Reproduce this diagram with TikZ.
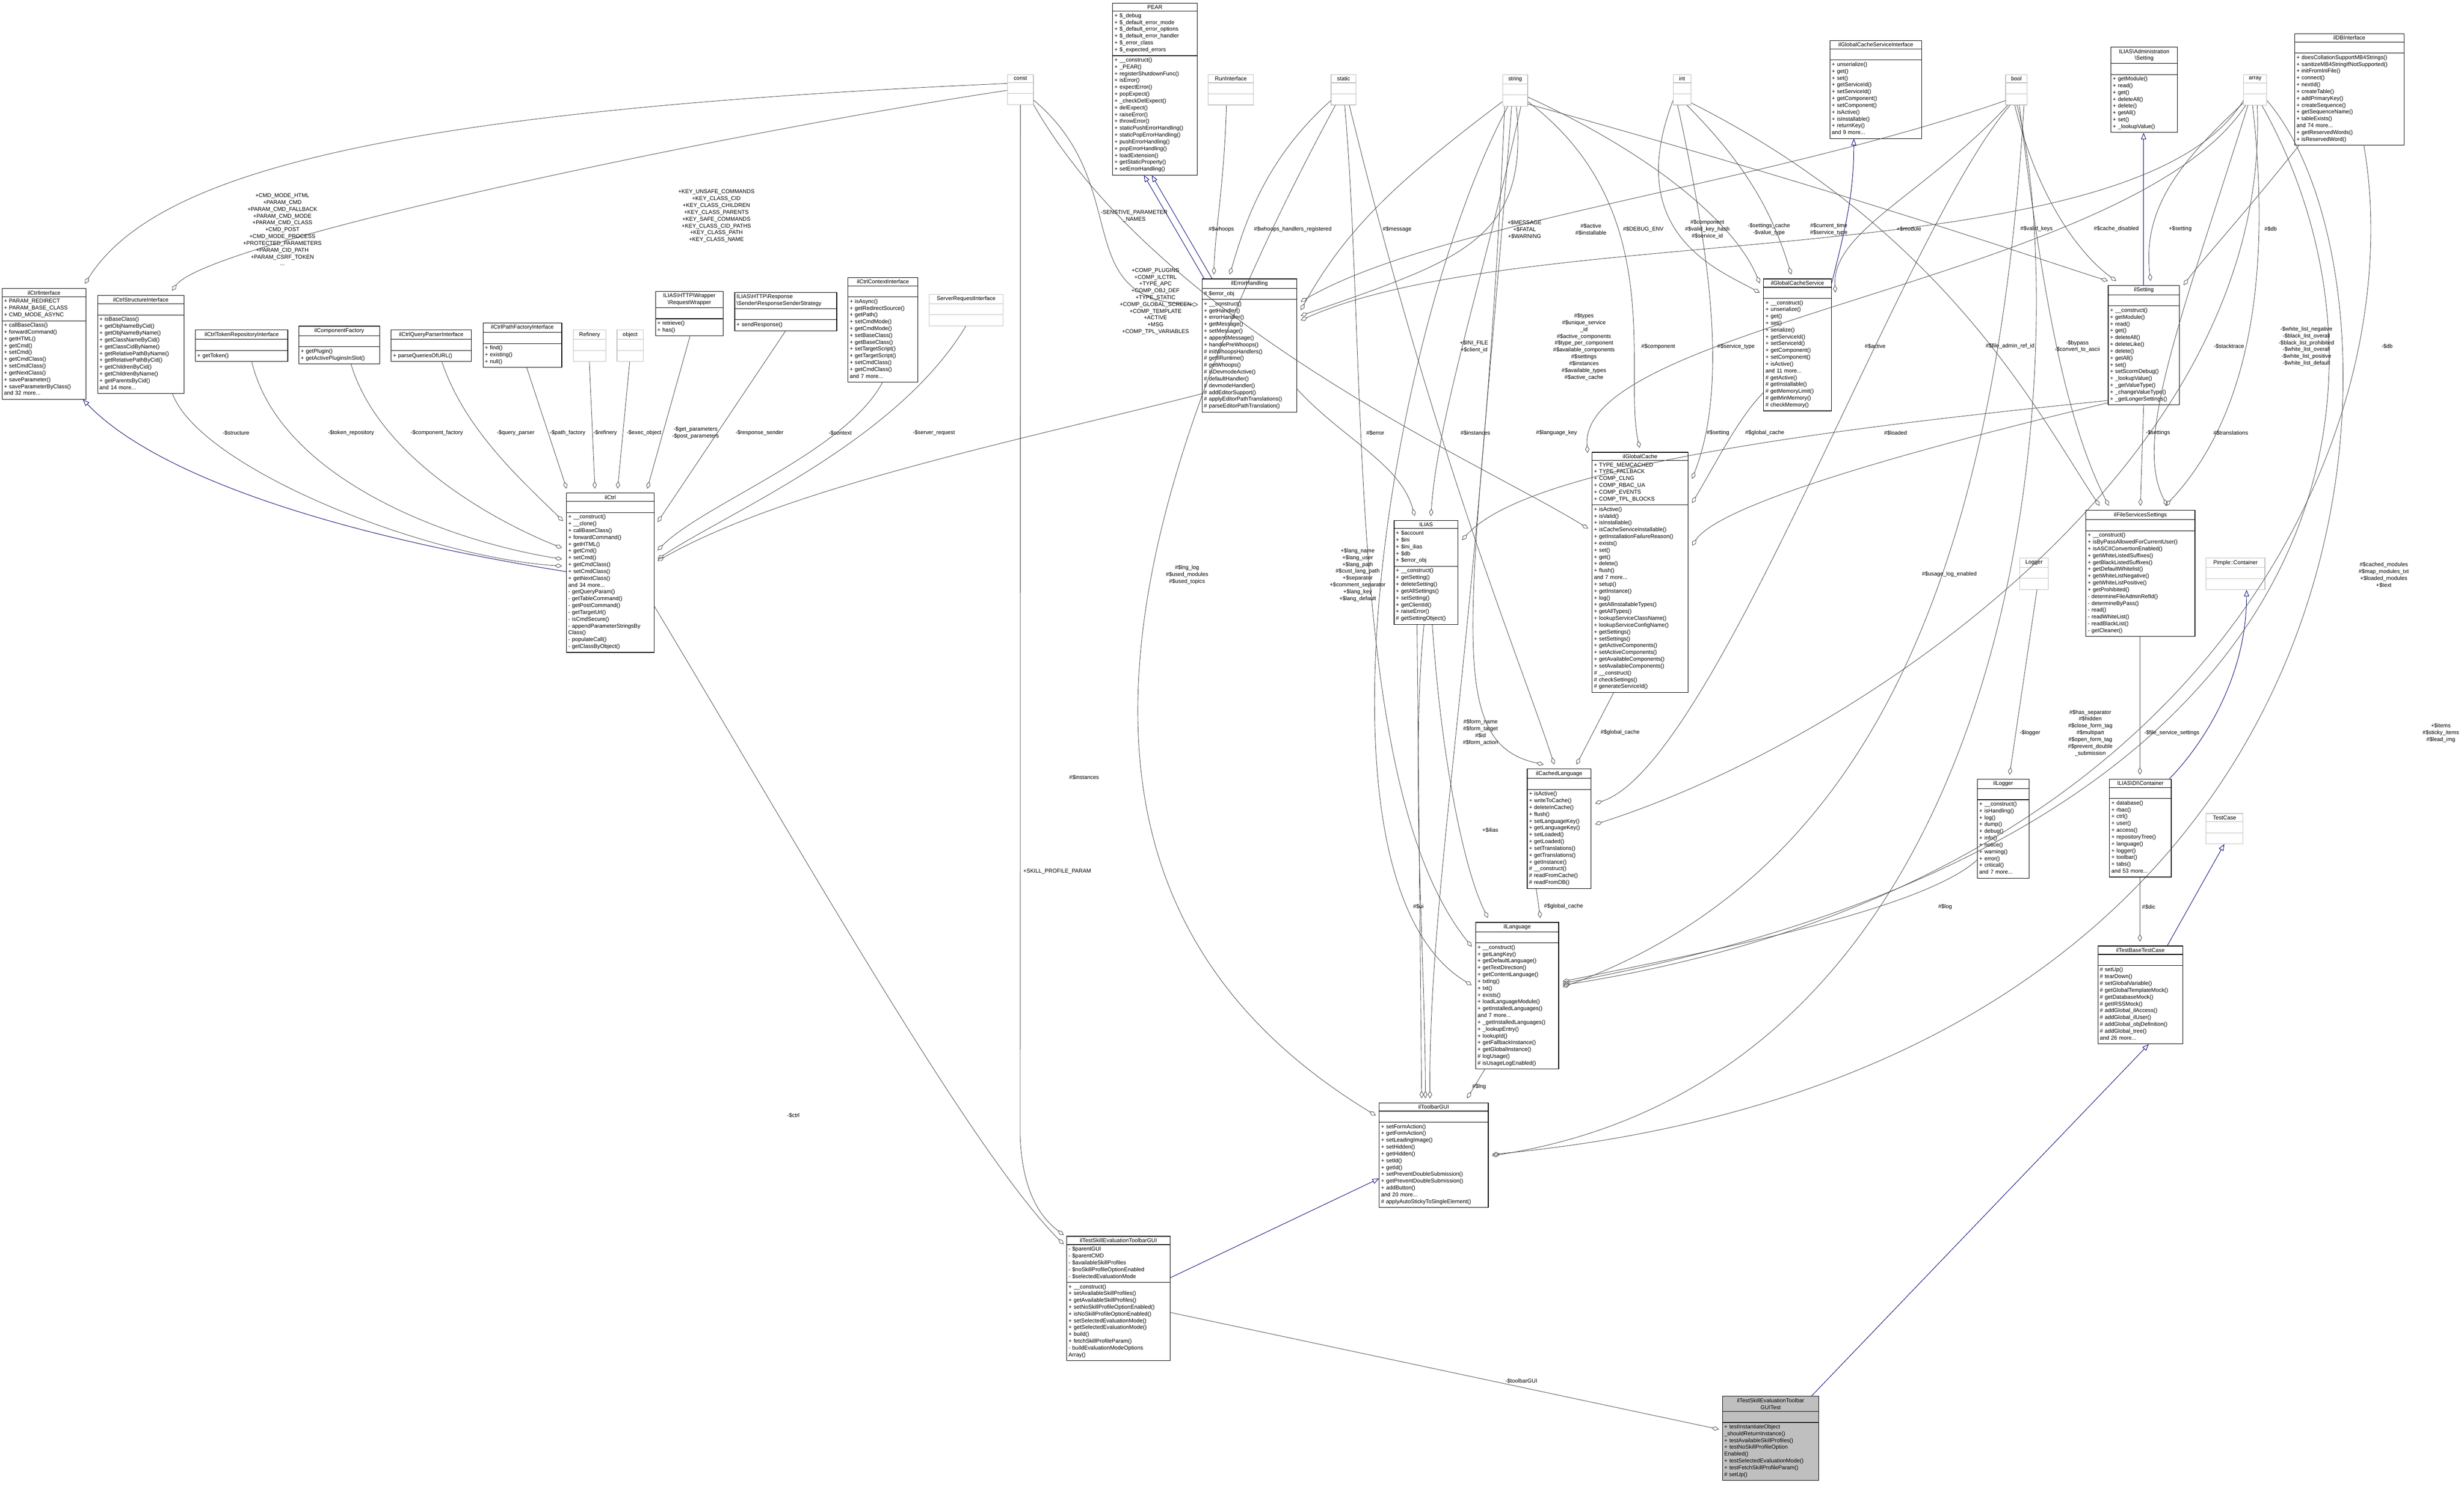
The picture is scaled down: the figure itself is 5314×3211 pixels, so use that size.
\documentclass[tikz,border=0pt]{standalone}
\usepackage{fontspec}
\setmainfont{Liberation Sans}
\usetikzlibrary{shapes.multipart,arrows.meta,calc}
\tikzset{
 cls/.style={draw=black,line width=1.2pt,fill=white,rectangle split,rectangle split parts=3,anchor=north west,
   align=left,inner sep=4pt,font=\fontsize{12}{14.7}\selectfont},
 gcls/.style={cls,draw=black!25},
 rel/.style={draw=black!75,line width=0.9pt,-{Diamond[open,length=16pt,width=9pt]}},
 inh/.style={draw=blue!45!black,line width=1pt,-{Triangle[open,length=14pt,width=11pt]}},
 lbl/.style={font=\fontsize{12}{14.7}\selectfont,align=center,inner sep=1pt}
}
\newcommand{\ucls}[8][cls]{\node[#1,text width=#5-8pt] (#2) at (#3,#4) {\centering #6\par\nodepart{second}#7\strut\nodepart{third}#8\strut};}
\newcommand{\lcls}[8][cls]{\node[#1,text width=#5-8pt] (#2) at (#3,#4) {#6\par\nodepart{second}#7\strut\nodepart{third}#8\strut};}
\begin{document}
\begin{tikzpicture}[x=1pt,y=-1pt]
\useasboundingbox (0,0) rectangle (5314,3211);
% ---------- classes ----------
\ucls{ctrlif}{4}{622}{181}{ilCtrlInterface}{+ PARAM\_REDIRECT\\+ PARAM\_BASE\_CLASS\\+ CMD\_MODE\_ASYNC}{+ callBaseClass()\\+ forwardCommand()\\+ getHTML()\\+ getCmd()\\+ setCmd()\\+ getCmdClass()\\+ setCmdClass()\\+ getNextClass()\\+ saveParameter()\\+ saveParameterByClass()\\and 32 more...}
\ucls{ctrlst}{210}{637}{186}{ilCtrlStructureInterface}{}{+ isBaseClass()\\+ getObjNameByCid()\\+ getObjNameByName()\\+ getClassNameByCid()\\+ getClassCidByName()\\+ getRelativePathByName()\\+ getRelativePathByCid()\\+ getChildrenByCid()\\+ getChildrenByName()\\+ getParentsByCid()\\and 14 more...}
\ucls{tokrep}{421}{711}{199}{ilCtrlTokenRepositoryInterface}{}{+ getToken()}
\ucls{compf}{644}{703}{174}{ilComponentFactory}{}{+ getPlugin()\\+ getActivePluginsInSlot()}
\ucls{qpar}{843}{711}{173}{ilCtrlQueryParserInterface}{}{+ parseQueriesOfURL()}
\ucls{pathf}{1041}{696}{170}{ilCtrlPathFactoryInterface}{}{+ find()\\+ existing()\\+ null()}
\ucls[gcls]{refin}{1236}{711}{70}{Refinery}{}{}
\ucls[gcls]{objct}{1330}{711}{57}{object}{}{}
\ucls{reqw}{1413}{628}{146}{ILIAS\textbackslash HTTP\textbackslash Wrapper\\\textbackslash RequestWrapper}{}{+ retrieve()\\+ has()}
\lcls{resps}{1584}{630}{220}{ILIAS\textbackslash HTTP\textbackslash Response\\\textbackslash Sender\textbackslash ResponseSenderStrategy}{}{+ sendResponse()}
\ucls{ctxif}{1828}{598}{151}{ilCtrlContextInterface}{}{+ isAsync()\\+ getRedirectSource()\\+ getPath()\\+ setCmdMode()\\+ getCmdMode()\\+ setBaseClass()\\+ getBaseClass()\\+ setTargetScript()\\+ getTargetScript()\\+ setCmdClass()\\+ getCmdClass()\\and 7 more...}
\ucls[gcls]{sreq}{2003}{634}{160}{ServerRequestInterface}{}{}
\ucls{ilctrl}{1221}{1063}{189}{ilCtrl}{}{+ \_\_construct()\\+ \_\_clone()\\+ callBaseClass()\\+ forwardCommand()\\+ getHTML()\\+ getCmd()\\+ setCmd()\\+ getCmdClass()\\+ setCmdClass()\\+ getNextClass()\\and 34 more...\\- getQueryParam()\\- getTableCommand()\\- getPostCommand()\\- getTargetUrl()\\- isCmdSecure()\\- appendParameterStringsBy\\Class()\\- populateCall()\\- getClassByObject()}
\ucls[gcls]{const}{2172}{160}{56}{const}{}{}
\ucls{pear}{2399}{6}{182}{PEAR}{+ \$\_debug\\+ \$\_default\_error\_mode\\+ \$\_default\_error\_options\\+ \$\_default\_error\_handler\\+ \$\_error\_class\\+ \$\_expected\_errors}{+ \_\_construct()\\+ \_PEAR()\\+ registerShutdownFunc()\\+ isError()\\+ expectError()\\+ popExpect()\\+ \_checkDelExpect()\\+ delExpect()\\+ raiseError()\\+ throwError()\\+ staticPushErrorHandling()\\+ staticPopErrorHandling()\\+ pushErrorHandling()\\+ popErrorHandling()\\+ loadExtension()\\+ getStaticProperty()\\+ setErrorHandling()}
\ucls[gcls]{runif}{2605}{160}{98}{RunInterface}{}{}
\ucls[gcls]{static}{2870}{160}{54}{static}{}{}
\ucls[gcls]{string}{3240}{160}{54}{string}{}{}
\ucls[gcls]{int}{3608}{160}{38}{int}{}{}
\ucls[gcls]{bool}{4325}{160}{46}{bool}{}{}
\ucls[gcls]{array}{4838}{160}{50}{array}{}{}
\ucls{gcsi}{3946}{87}{198}{ilGlobalCacheServiceInterface}{}{+ unserialize()\\+ get()\\+ set()\\+ getServiceId()\\+ setServiceId()\\+ getComponent()\\+ setComponent()\\+ isActive()\\+ isInstallable()\\+ returnKey()\\and 9 more...}
\ucls{admset}{4552}{101}{143}{ILIAS\textbackslash Administration\\\textbackslash Setting}{}{+ getModule()\\+ read()\\+ get()\\+ deleteAll()\\+ delete()\\+ getAll()\\+ set()\\+ \_lookupValue()}
\ucls{dbif}{4948}{72}{236}{ilDBInterface}{}{+ doesCollationSupportMB4Strings()\\+ sanitizeMB4StringIfNotSupported()\\+ initFromIniFile()\\+ connect()\\+ nextId()\\+ createTable()\\+ addPrimaryKey()\\+ createSequence()\\+ getSequenceName()\\+ tableExists()\\and 74 more...\\+ getReservedWords()\\+ isReservedWord()}
\ucls{errh}{2592}{601}{204}{ilErrorHandling}{\# \$error\_obj}{+ \_\_construct()\\+ getHandler()\\+ errorHandler()\\+ getMessage()\\+ setMessage()\\+ appendMessage()\\+ handlePreWhoops()\\\# initWhoopsHandlers()\\\# getIlRuntime()\\\# getWhoops()\\\# isDevmodeActive()\\\# defaultHandler()\\\# devmodeHandler()\\\# addEditorSupport()\\\# applyEditorPathTranslations()\\\# parseEditorPathTranslation()}
\ucls{gcs}{3803}{601}{146}{ilGlobalCacheService}{}{+ \_\_construct()\\+ unserialize()\\+ get()\\+ set()\\+ serialize()\\+ getServiceId()\\+ setServiceId()\\+ getComponent()\\+ setComponent()\\+ isActive()\\and 11 more...\\\# getActive()\\\# getInstallable()\\\# getMemoryLimit()\\\# getMinMemory()\\\# checkMemory()}
\ucls{gc}{3433}{975}{207}{ilGlobalCache}{+ TYPE\_MEMCACHED\\+ TYPE\_FALLBACK\\+ COMP\_CLNG\\+ COMP\_RBAC\_UA\\+ COMP\_EVENTS\\+ COMP\_TPL\_BLOCKS}{+ isActive()\\+ isValid()\\+ isInstallable()\\+ isCacheServiceInstallable()\\+ getInstallationFailureReason()\\+ exists()\\+ set()\\+ get()\\+ delete()\\+ flush()\\and 7 more...\\+ setup()\\+ getInstance()\\+ log()\\+ getAllInstallableTypes()\\+ getAllTypes()\\+ lookupServiceClassName()\\+ lookupServiceConfigName()\\+ getSettings()\\+ setSettings()\\+ getActiveComponents()\\+ setActiveComponents()\\+ getAvailableComponents()\\+ setAvailableComponents()\\\# \_\_construct()\\\# checkSettings()\\\# generateServiceId()}
\ucls{ilias}{3006}{1122}{138}{ILIAS}{+ \$account\\+ \$ini\\+ \$ini\_ilias\\+ \$db\\+ \$error\_obj}{+ \_\_construct()\\+ getSetting()\\+ deleteSetting()\\+ getAllSettings()\\+ setSetting()\\+ getClientId()\\+ raiseError()\\\# getSettingObject()}
\ucls{setting}{4546}{615}{154}{ilSetting}{}{+ \_\_construct()\\+ getModule()\\+ read()\\+ get()\\+ deleteAll()\\+ deleteLike()\\+ delete()\\+ getAll()\\+ set()\\+ setScormDebug()\\+ \_lookupValue()\\+ \_getValueType()\\+ \_changeValueType()\\+ \_getLongerSettings()}
\ucls{fss}{4498}{1100}{235}{ilFileServicesSettings}{}{+ \_\_construct()\\+ isByPassAllowedForCurrentUser()\\+ isASCIIConvertionEnabled()\\+ getWhiteListedSuffixes()\\+ getBlackListedSuffixes()\\+ getDefaultWhitelist()\\+ getWhiteListNegative()\\+ getWhiteListPositive()\\+ getProhibited()\\- determineFileAdminRefId()\\- determineByPass()\\- read()\\- readWhiteList()\\- readBlackList()\\- getCleaner()}
\ucls[gcls]{logger}{4355}{1203}{62}{Logger}{}{}
\ucls[gcls]{pimple}{4757}{1203}{127}{Pimple::Container}{}{}
\ucls[gcls]{testcase}{4757}{1754}{80}{TestCase}{}{}
\ucls{illog}{4264}{1680}{111}{ilLogger}{}{+ \_\_construct()\\+ isHandling()\\+ log()\\+ dump()\\+ debug()\\+ info()\\+ notice()\\+ warning()\\+ error()\\+ critical()\\and 7 more...}
\ucls{dic}{4549}{1680}{133}{ILIAS\textbackslash DI\textbackslash Container}{}{+ database()\\+ rbac()\\+ ctrl()\\+ user()\\+ access()\\+ repositoryTree()\\+ language()\\+ logger()\\+ toolbar()\\+ tabs()\\and 53 more...}
\ucls{tbtc}{4524}{2040}{183}{ilTestBaseTestCase}{}{\# setUp()\\\# tearDown()\\\# setGlobalVariable()\\\# getGlobalTemplateMock()\\\# getDatabaseMock()\\\# getIRSSMock()\\\# addGlobal\_ilAccess()\\\# addGlobal\_ilUser()\\\# addGlobal\_objDefinition()\\\# addGlobal\_tree()\\and 26 more...}
\ucls{clang}{3293}{1658}{138}{ilCachedLanguage}{}{+ isActive()\\+ writeToCache()\\+ deleteInCache()\\+ flush()\\+ setLanguageKey()\\+ getLanguageKey()\\+ setLoaded()\\+ getLoaded()\\+ setTranslations()\\+ getTranslations()\\+ getInstance()\\\# \_\_construct()\\\# readFromCache()\\\# readFromDB()}
\ucls{lang}{3182}{1989}{179}{ilLanguage}{}{+ \_\_construct()\\+ getLangKey()\\+ getDefaultLanguage()\\+ getTextDirection()\\+ getContentLanguage()\\+ txtlng()\\+ txt()\\+ exists()\\+ loadLanguageModule()\\+ getInstalledLanguages()\\and 7 more...\\+ \_getInstalledLanguages()\\+ \_lookupEntry()\\+ lookupId()\\+ getFallbackInstance()\\+ getGlobalInstance()\\\# logUsage()\\\# isUsageLogEnabled()}
\ucls{tbar}{2974}{2378}{235}{ilToolbarGUI}{}{+ setFormAction()\\+ getFormAction()\\+ setLeadingImage()\\+ setHidden()\\+ getHidden()\\+ setId()\\+ getId()\\+ setPreventDoubleSubmission()\\+ getPreventDoubleSubmission()\\+ addButton()\\and 20 more...\\\# applyAutoStickyToSingleElement()}
\ucls{tseg}{2300}{2666}{223}{ilTestSkillEvaluationToolbarGUI}{- \$parentGUI\\- \$parentCMD\\- \$availableSkillProfiles\\- \$noSkillProfileOptionEnabled\\- \$selectedEvaluationMode}{+ \_\_construct()\\+ setAvailableSkillProfiles()\\+ getAvailableSkillProfiles()\\+ setNoSkillProfileOptionEnabled()\\+ isNoSkillProfileOptionEnabled()\\+ setSelectedEvaluationMode()\\+ getSelectedEvaluationMode()\\+ build()\\+ fetchSkillProfileParam()\\- buildEvaluationModeOptions\\Array()}
\ucls[cls,fill=black!25]{test}{3714}{3011}{208}{ilTestSkillEvaluationToolbar\\GUITest}{}{+ testInstantiateObject\\\_shouldReturnInstance()\\+ testAvailableSkillProfiles()\\+ testNoSkillProfileOption\\Enabled()\\+ testSelectedEvaluationMode()\\+ testFetchSkillProfileParam()\\\# setUp()}
% ---------- inheritance ----------
\draw[inh] ($(ilctrl.north west)+(0,170)$) .. controls (700,1150) and (330,1020) .. ($(ctrlif.south west)+(175,0)$);
\draw[inh] ($(errh.north west)+(5,0)$) -- ($(pear.south west)+(68,0)$);
\draw[inh] ($(errh.north west)+(22,0)$) -- ($(pear.south west)+(85,0)$);
\draw[inh] ($(gcs.north east)+(0,10)$) .. controls +(30,-120) and +(0,120) .. ($(gcsi.south west)+(52,0)$);
\draw[inh] ($(setting.north west)+(77,0)$) -- ($(admset.south west)+(71,0)$);
\draw[inh] ($(dic.north east)+(-5,0)$) .. controls +(60,-60) and +(0,200) .. ($(pimple.south west)+(88,0)$);
\draw[inh] ($(tbtc.north west)+(150,0)$) -- ($(testcase.south west)+(40,0)$);
\draw[inh] ($(test.north west)+(193,0)$) -- ($(tbtc.south west)+(110,0)$);
\draw[inh] ($(tseg.north east)+(0,90)$) -- ($(tbar.south west)+(0,-63)$);
% ---------- ilCtrl associations ----------
\draw[rel] ($(const.north west)+(0,20)$) .. controls (800,240) and (330,380) .. ($(ctrlif.north west)+(179,-10)$);
\draw[rel] ($(const.north west)+(0,35)$) .. controls (1600,280) and (450,520) .. ($(ctrlst.north west)+(161,-10)$);
\draw[rel] ($(ctrlst.south west)+(162,0)$) .. controls +(60,160) and +(-300,-20) .. ($(ilctrl.north west)+(-9,158)$);
\draw[rel] ($(tokrep.south west)+(122,0)$) .. controls +(60,250) and +(-250,-40) .. ($(ilctrl.north west)+(-9,143)$);
\draw[rel] ($(compf.south west)+(113,0)$) .. controls +(60,200) and +(-150,-60) .. ($(ilctrl.north west)+(-9,119)$);
\draw[rel] ($(qpar.south west)+(110,0)$) .. controls +(50,150) and +(-80,-80) .. ($(ilctrl.north west)+(-7,61)$);
\draw[rel] ($(pathf.south west)+(95,0)$) -- ($(ilctrl.north west)+(1,-9)$);
\draw[rel] ($(refin.south west)+(35,0)$) -- ($(ilctrl.north west)+(62,-9)$);
\draw[rel] ($(objct.south west)+(28,0)$) -- ($(ilctrl.north west)+(111,-9)$);
\draw[rel] ($(reqw.south west)+(75,0)$) -- ($(ilctrl.north west)+(175,-9)$);
\draw[rel] ($(resps.south west)+(110,0)$) -- ($(ilctrl.north east)+(7,63)$);
\draw[rel] ($(ctxif.south west)+(75,0)$) .. controls +(-80,150) and +(100,-100) .. ($(ilctrl.north east)+(7,124)$);
\draw[rel] ($(sreq.south west)+(80,0)$) .. controls +(-150,250) and +(150,-100) .. ($(ilctrl.north east)+(7,143)$);
\draw[rel] ($(errh.south west)+(0,-40)$) .. controls (2200,950) and (1700,1050) .. ($(ilctrl.north east)+(7,147)$);
\draw[rel] ($(ilctrl.south east)+(0,-100)$) .. controls +(300,500) and +(-200,-200) .. ($(tseg.north west)+(-6,18)$);
\draw[rel] (const.south) -- (2200,2450) .. controls (2205,2580) and (2250,2630) .. ($(tseg.north west)+(-6,-2)$);
% ---------- bottom chain ----------
\draw[rel] ($(tseg.north east)+(0,165)$) -- ($(test.north west)+(-7,72)$);
\draw[rel] ($(lang.south west)+(20,0)$) -- ($(tbar.north west)+(190,-9)$);
\draw[rel] ($(ilias.south west)+(50,0)$) -- ($(tbar.north west)+(92,-9)$);
\draw[rel] ($(ilias.south west)+(65,0)$) .. controls +(-30,300) and +(0,-300) .. ($(tbar.north west)+(100,-9)$);
\draw[rel] ($(ilias.south west)+(83,0)$) .. controls +(20,300) and +(-50,-100) .. ($(lang.north west)+(27,-9)$);
\draw[rel] ($(static.south west)+(10,0)$) .. controls (2300,1300) and (2300,2000) .. ($(tbar.north west)+(-7,28)$);
\draw[rel] ($(clang.south west)+(20,0)$) -- ($(lang.north west)+(140,-9)$);
\draw[rel] ($(gc.south west)+(47,0)$) -- ($(clang.north west)+(107,-9)$);
\draw[rel] ($(string.south west)+(20,0)$) .. controls (3180,1300) and (3100,1600) .. ($(clang.north west)+(36,-9)$);
\draw[rel] ($(static.south west)+(40,0)$) .. controls (3100,1000) and (3270,1400) .. ($(clang.north west)+(59,-9)$);
\draw[rel] ($(string.south west)+(5,0)$) .. controls (3200,1300) and (3080,1900) .. ($(tbar.north west)+(110,-9)$);
\draw[rel] ($(static.south west)+(30,0)$) .. controls (2950,800) and (2900,1700) .. ($(lang.north west)+(-8,53)$);
\draw[rel] ($(string.south west)+(12,0)$) .. controls (3000,700) and (2800,1900) .. ($(lang.north west)+(-8,136)$);
\draw[rel] ($(illog.south west)+(0,-40)$) .. controls (4150,1960) and (3700,2050) .. ($(lang.north east)+(8,128)$);
\draw[rel] ($(logger.south west)+(38,0)$) -- ($(illog.north west)+(70,-9)$);
\draw[rel] ($(fss.south west)+(117,0)$) -- ($(dic.north west)+(66,-9)$);
\draw[rel] ($(dic.south west)+(66,0)$) -- ($(tbtc.north west)+(91,-9)$);
\draw[rel] ($(setting.south west)+(77,0)$) -- ($(fss.north west)+(118,-9)$);
% ---------- ErrorHandling / ILIAS / GlobalCache ----------
\draw[rel] ($(runif.south west)+(40,0)$) .. controls (2640,400) and (2620,500) .. ($(errh.north west)+(26,-9)$);
\draw[rel] ($(static.south west)+(0,-10)$) .. controls (2720,350) and (2680,500) .. ($(errh.north west)+(60,-9)$);
\draw[rel] ($(const.south east)+(0,-10)$) .. controls (2450,400) and (2300,650) .. ($(errh.north west)+(-8,56)$);
\draw[rel] ($(string.south west)+(0,-10)$) .. controls (3000,400) and (2900,500) .. ($(errh.north east)+(8,68)$);
\draw[rel] ($(string.south west)+(30,0)$) .. controls (3300,520) and (3150,560) .. ($(errh.north east)+(8,80)$);
\draw[rel] ($(bool.south west)+(0,-10)$) .. controls (3800,400) and (3100,480) .. ($(errh.north east)+(8,50)$);
\draw[rel] ($(array.south west)+(0,-10)$) .. controls (4600,600) and (3300,470) .. ($(errh.north east)+(8,90)$);
\draw[rel] ($(errh.south east)+(0,-50)$) .. controls (2900,950) and (3020,1000) .. ($(ilias.north west)+(45,-9)$);
\draw[rel] ($(string.south west)+(40,0)$) .. controls (3200,600) and (3100,900) .. ($(ilias.north west)+(80,-9)$);
\draw[rel] ($(setting.south west)+(0,-10)$) .. controls (4000,920) and (3300,1000) .. ($(ilias.north east)+(8,43)$);
\draw[rel] ($(string.south east)+(0,-10)$) .. controls (3600,450) and (3500,800) .. ($(gc.north west)+(103,-9)$);
\draw[rel] ($(array.south west)+(5,0)$) .. controls (4600,600) and (3400,700) .. ($(gc.north west)+(-9,2)$);
\draw[rel] ($(const.south east)+(0,0)$) .. controls (2500,700) and (3200,1000) .. ($(gc.north west)+(-8,165)$);
\draw[rel] ($(int.south west)+(10,0)$) .. controls (3700,600) and (3720,850) .. ($(gc.north east)+(8,58)$);
\draw[rel] ($(gcs.south west)+(0,-40)$) .. controls (3750,900) and (3700,1000) .. ($(gc.north east)+(8,110)$);
\draw[rel] ($(setting.south west)+(0,-5)$) .. controls (4000,1000) and (3700,1100) .. ($(gc.north east)+(8,202)$);
\draw[rel] ($(int.south west)+(30,0)$) .. controls (3760,350) and (3820,450) .. ($(gcs.north west)+(60,-9)$);
\draw[rel] ($(string.south east)+(0,-20)$) .. controls (3600,350) and (3750,500) .. ($(gcs.north west)+(-8,10)$);
\draw[rel] ($(int.south west)+(0,-10)$) .. controls (3500,500) and (3700,580) .. ($(gcs.north west)+(-8,30)$);
\draw[rel] ($(bool.south west)+(5,0)$) .. controls (4150,420) and (3950,500) .. ($(gcs.north east)+(8,30)$);
% ---------- Setting / FileServices ----------
\draw[rel] ($(string.south east)+(0,-5)$) .. controls (4000,420) and (4400,560) .. ($(setting.north west)+(0,-9)$);
\draw[rel] ($(bool.south west)+(20,0)$) .. controls (4400,450) and (4500,560) .. ($(setting.north west)+(18,-9)$);
\draw[rel] ($(array.south west)+(0,-5)$) .. controls (4700,350) and (4620,450) .. ($(setting.north west)+(92,-9)$);
\draw[rel] ($(dbif.south west)+(10,0)$) .. controls (4850,450) and (4750,560) .. ($(setting.north east)+(8,0)$);
\draw[rel] ($(int.south east)+(0,-5)$) .. controls (4200,500) and (4400,900) .. ($(fss.north west)+(30,-9)$);
\draw[rel] ($(bool.south west)+(30,0)$) .. controls (4400,600) and (4450,900) .. ($(fss.north west)+(50,-9)$);
\draw[rel] ($(array.south west)+(20,0)$) .. controls (4900,600) and (4850,900) .. ($(fss.north west)+(172,-9)$);
\draw[rel] ($(array.south west)+(10,0)$) .. controls (4700,700) and (4600,950) .. ($(fss.north west)+(176,-9)$);
% ---------- CachedLanguage / Language / Toolbar (right side) ----------
\draw[rel] ($(bool.south west)+(10,0)$) .. controls (4100,500) and (3700,1650) .. ($(clang.north east)+(8,75)$);
\draw[rel] ($(array.south west)+(30,0)$) .. controls (4900,1000) and (4000,1600) .. ($(clang.north east)+(8,120)$);
\draw[rel] ($(bool.south west)+(40,0)$) .. controls (4300,1300) and (4000,1900) .. ($(lang.north east)+(8,140)$);
\draw[rel] ($(array.south west)+(40,0)$) .. controls (5200,800) and (5100,1800) .. ($(lang.north east)+(8,132)$);
\draw[rel] ($(dbif.south west)+(150,0)$) .. controls (5200,900) and (4800,1900) .. ($(lang.north east)+(8,136)$);
\draw[rel] ($(bool.south west)+(25,0)$) .. controls (4454,600) and (4454,2300) .. ($(tbar.north east)+(8,115)$);
\draw[rel] ($(array.south east)+(0,-10)$) .. controls (5220,600) and (5220,2300) .. ($(tbar.north east)+(8,112)$);
% ---------- labels ----------
\node[lbl] (l1) at (609,495) {+CMD\_MODE\_HTML\\+PARAM\_CMD\\+PARAM\_CMD\_FALLBACK\\+PARAM\_CMD\_MODE\\+PARAM\_CMD\_CLASS\\+CMD\_POST\\+CMD\_MODE\_PROCESS\\+PROTECTED\_PARAMETERS\\+PARAM\_CID\_PATH\\+PARAM\_CSRF\_TOKEN\\...};
\node[lbl] (l2) at (1545,466) {+KEY\_UNSAFE\_COMMANDS\\+KEY\_CLASS\_CID\\+KEY\_CLASS\_CHILDREN\\+KEY\_CLASS\_PARENTS\\+KEY\_SAFE\_COMMANDS\\+KEY\_CLASS\_CID\_PATHS\\+KEY\_CLASS\_PATH\\+KEY\_CLASS\_NAME};
\node[lbl] (l3) at (509,934) {-\$structure};
\node[lbl] (l4) at (757,934) {-\$token\_repository};
\node[lbl] (l5) at (942,934) {-\$component\_factory};
\node[lbl] (l6) at (1112,934) {-\$query\_parser};
\node[lbl] (l7) at (1224,934) {-\$path\_factory};
\node[lbl] (l8) at (1305,934) {-\$refinery};
\node[lbl] (l9) at (1389,934) {-\$exec\_object};
\node[lbl] (l10) at (1500,934) {-\$get\_parameters\\-\$post\_parameters};
\node[lbl] (l11) at (1638,934) {-\$response\_sender};
\node[lbl] (l12) at (1812,934) {-\$context};
\node[lbl] (l13) at (2014,934) {-\$server\_request};
\node[lbl] (l14) at (1711,2406) {-\$ctrl};
\node[lbl] (l15) at (2280,1880) {+SKILL\_PROFILE\_PARAM};
\node[lbl] (l16) at (3281,2979) {-\$toolbarGUI};
\node[lbl] (l17) at (2446,466) {-SENSTIVE\_PARAMETER\\\_NAMES};
\node[lbl] (l18) at (2634,495) {\#\$whoops};
\node[lbl] (l19) at (2788,495) {\#\$whoops\_handlers\_registered};
\node[lbl] (l20) at (3013,495) {\#\$message};
\node[lbl] (l21) at (3288,495) {+\$MESSAGE\\+\$FATAL\\+\$WARNING};
\node[lbl] (l22) at (3431,495) {\#\$active\\\#\$installable};
\node[lbl] (l23) at (3544,495) {\#\$DEBUG\_ENV};
\node[lbl] (l24) at (3682,495) {\#\$component\\\#\$valid\_key\_hash\\\#\$service\_id};
\node[lbl] (l25) at (3815,495) {-\$settings\_cache\\-\$value\_type};
\node[lbl] (l26) at (3944,495) {\#\$current\_time\\\#\$service\_type};
\node[lbl] (l27) at (2492,650) {+COMP\_PLUGINS\\+COMP\_ILCTRL\\+TYPE\_APC\\+COMP\_OBJ\_DEF\\+TYPE\_STATIC\\+COMP\_GLOBAL\_SCREEN\\+COMP\_TEMPLATE\\+ACTIVE\\+MSG\\+COMP\_TPL\_VARIABLES};
\node[lbl] (l28) at (3416,748) {\#\$types\\\#\$unique\_service\\\_id\\\#\$active\_components\\\#\$type\_per\_component\\\#\$available\_components\\\#\$settings\\\#\$instances\\\#\$available\_types\\\#\$active\_cache};
\node[lbl] (l29) at (3179,748) {+\$INI\_FILE\\+\$client\_id};
\node[lbl] (l30) at (3576,748) {\#\$component};
\node[lbl] (l31) at (3744,748) {\#\$service\_type};
\node[lbl] (l32) at (2966,934) {\#\$error};
\node[lbl] (l33) at (3182,934) {\#\$instances};
\node[lbl] (l34) at (3357,934) {\#\$language\_key};
\node[lbl] (l35) at (3705,934) {\#\$setting};
\node[lbl] (l36) at (3806,934) {\#\$global\_cache};
\node[lbl] (l37) at (2928,1240) {+\$lang\_name\\+\$lang\_user\\+\$lang\_path\\\#\$cust\_lang\_path\\+\$separator\\+\$comment\_separator\\+\$lang\_key\\+\$lang\_default};
\node[lbl] (l38) at (2560,1240) {\#\$lng\_log\\\#\$used\_modules\\\#\$used\_topics};
\node[lbl] (l39) at (3193,1580) {\#\$form\_name\\\#\$form\_target\\\#\$id\\\#\$form\_action};
\node[lbl] (l40) at (3214,1790) {+\$ilias};
\node[lbl] (l41) at (3059,1955) {\#\$ui};
\node[lbl] (l42) at (3494,1580) {\#\$global\_cache};
\node[lbl] (l43) at (3372,1955) {\#\$global\_cache};
\node[lbl] (l44) at (3190,2344) {\#\$lng};
\node[lbl] (l45) at (2338,1677) {\#\$instances};
\node[lbl] (l46) at (4117,494) {+\$module};
\node[lbl] (l47) at (4392,494) {\#\$valid\_keys};
\node[lbl] (l48) at (4564,494) {\#\$cache\_disabled};
\node[lbl] (l49) at (4702,494) {+\$setting};
\node[lbl] (l50) at (4897,494) {\#\$db};
\node[lbl] (l51) at (4044,747) {\#\$active};
\node[lbl] (l52) at (4335,747) {\#\$file\_admin\_ref\_id};
\node[lbl] (l53) at (4480,747) {-\$bypass\\-\$convert\_to\_ascii};
\node[lbl] (l54) at (4807,747) {-\$stacktrace};
\node[lbl] (l55) at (4974,747) {-\$white\_list\_negative\\-\$black\_list\_overall\\-\$black\_list\_prohibited\\-\$white\_list\_overall\\-\$white\_list\_positive\\-\$white\_list\_default};
\node[lbl] (l56) at (5148,747) {-\$db};
\node[lbl] (l57) at (4088,934) {\#\$loaded};
\node[lbl] (l58) at (4654,934) {-\$settings};
\node[lbl] (l59) at (4811,934) {\#\$translations};
\node[lbl] (l60) at (4204,1239) {\#\$usage\_log\_enabled};
\node[lbl] (l61) at (5141,1240) {\#\$cached\_modules\\\#\$map\_modules\_txt\\+\$loaded\_modules\\+\$text};
\node[lbl] (l62) at (4378,1581) {-\$logger};
\node[lbl] (l63) at (4684,1581) {-\$file\_service\_settings};
\node[lbl] (l64) at (4508,1581) {\#\$has\_separator\\\#\$hidden\\\#\$close\_form\_tag\\\#\$multipart\\\#\$open\_form\_tag\\\#\$prevent\_double\\\_submission};
\node[lbl] (l65) at (4634,1956) {\#\$dic};
\node[lbl] (l66) at (5264,1581) {+\$items\\\#\$sticky\_items\\\#\$lead\_img};
\node[lbl] (l67) at (4195,1956) {\#\$log};
\end{tikzpicture}
\end{document}
